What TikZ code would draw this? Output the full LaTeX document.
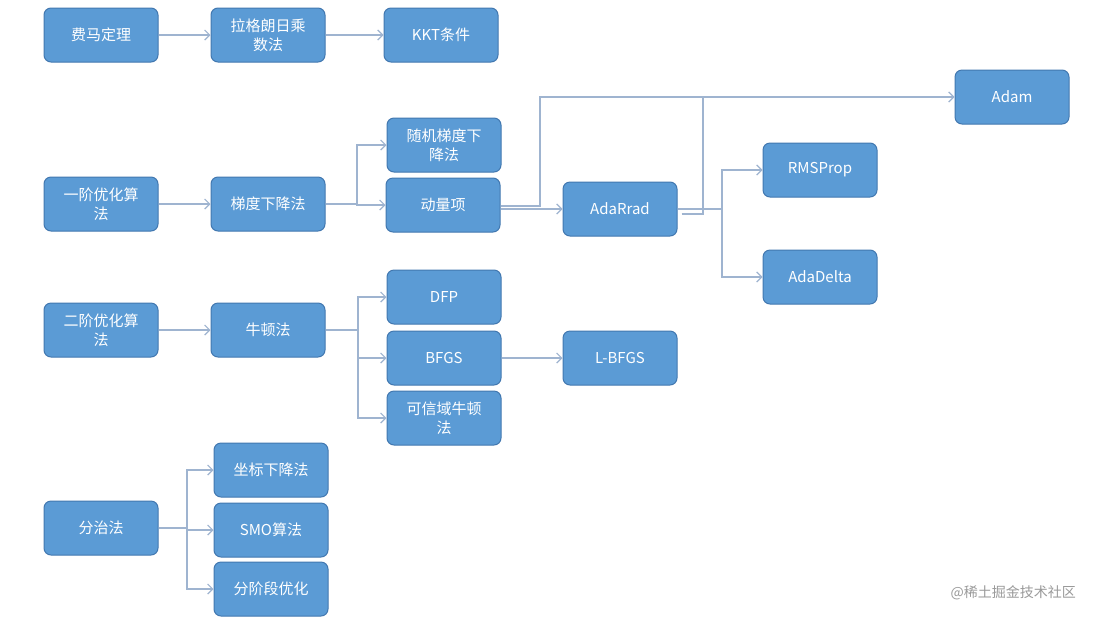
\documentclass[tikz,border=0pt]{standalone}
\usepackage{fontspec}
\newfontfamily\cjk{Noto Sans CJK SC}
\usetikzlibrary{arrows.meta}
\definecolor{boxfill}{HTML}{5B9BD5}
\definecolor{boxborder}{HTML}{4278B0}
\definecolor{linecol}{HTML}{9FB4D0}
\definecolor{wmcol}{HTML}{9A9A9A}
\tikzset{
  box/.style={draw=boxborder, fill=boxfill, rounded corners=7pt, minimum width=114pt,
    minimum height=54pt, text=white, align=center, inner sep=2pt,
    font=\cjk\fontsize{15}{19}\selectfont, line width=1pt},
  conn/.style={draw=linecol, line width=1.2pt, -{Straight Barb[length=5pt,width=10pt]}},
  plain/.style={draw=linecol, line width=1.2pt},
}
\begin{document}
\begin{tikzpicture}[x=1pt,y=-1pt]
\useasboundingbox (0,0) rectangle (1094,622);
\fill[white] (0,0) rectangle (1094,622);
% row 1
\node[box] (fm) at (101,35) {费马定理};
\node[box] (lg) at (268,35) {拉格朗日乘\\数法};
\node[box] (kkt) at (441,35) {KKT条件};
% row 2
\node[box] (yj) at (101,204) {一阶优化算\\法};
\node[box] (td) at (268,204) {梯度下降法};
\node[box] (sj) at (444,145) {随机梯度下\\降法};
\node[box] (dl) at (443,205) {动量项};
\node[box] (ada) at (620,209) {AdaRrad};
\node[box] (adam) at (1012,97) {Adam};
\node[box] (rms) at (820,170) {RMSProp};
\node[box] (add) at (820,277) {AdaDelta};
% row 3
\node[box] (ej) at (101,330) {二阶优化算\\法};
\node[box] (nd) at (268,330) {牛顿法};
\node[box] (dfp) at (444,297) {DFP};
\node[box] (bfgs) at (444,358) {BFGS};
\node[box] (kx) at (444,418) {可信域牛顿\\法};
\node[box] (lb) at (620,358) {L-BFGS};
% row 4
\node[box] (fz) at (101,528) {分治法};
\node[box] (zb) at (271,470) {坐标下降法};
\node[box] (smo) at (271,530) {SMO算法};
\node[box] (fj) at (271,589) {分阶段优化};
% watermark
\node[text=wmcol, font=\cjk\fontsize{14}{16}\selectfont, anchor=east, inner sep=0pt] (wm) at (1076,593) {@稀土掘金技术社区};
% connectors
\draw[conn] (fm) -- (lg);
\draw[conn] (lg) -- (kkt);
\draw[conn] (yj) -- (td);
\coordinate (b1) at (357,204);
\draw[conn] (td.east) -- (b1) |- (sj.west);
\draw[conn] (b1) |- (dl.west);
\coordinate (t1) at (540,97);
\draw[conn] ([yshift=-1pt]dl.east) -| (t1) -- (adam.west);
\draw[conn] (dl.east |- ada.west) -- (ada.west);
\coordinate (t2) at (703,97);
\draw[plain] ([xshift=4pt,yshift=-5pt]ada.east) -| (t2);
\coordinate (b2) at (722,209);
\draw[conn] (ada.east) -- (b2) |- (rms.west);
\draw[conn] (b2) |- (add.west);
\draw[conn] (ej) -- (nd);
\coordinate (b3) at (358,330);
\draw[conn] (nd.east) -- (b3) |- (dfp.west);
\draw[conn] (b3) |- (bfgs.west);
\draw[conn] (b3) |- (kx.west);
\draw[conn] (bfgs) -- (lb);
\coordinate (b4) at (187,528);
\draw[conn] (fz.east) -- (b4) |- (zb.west);
\draw[conn] (b4) |- (smo.west);
\draw[conn] (b4) |- (fj.west);
\end{tikzpicture}
\end{document}
